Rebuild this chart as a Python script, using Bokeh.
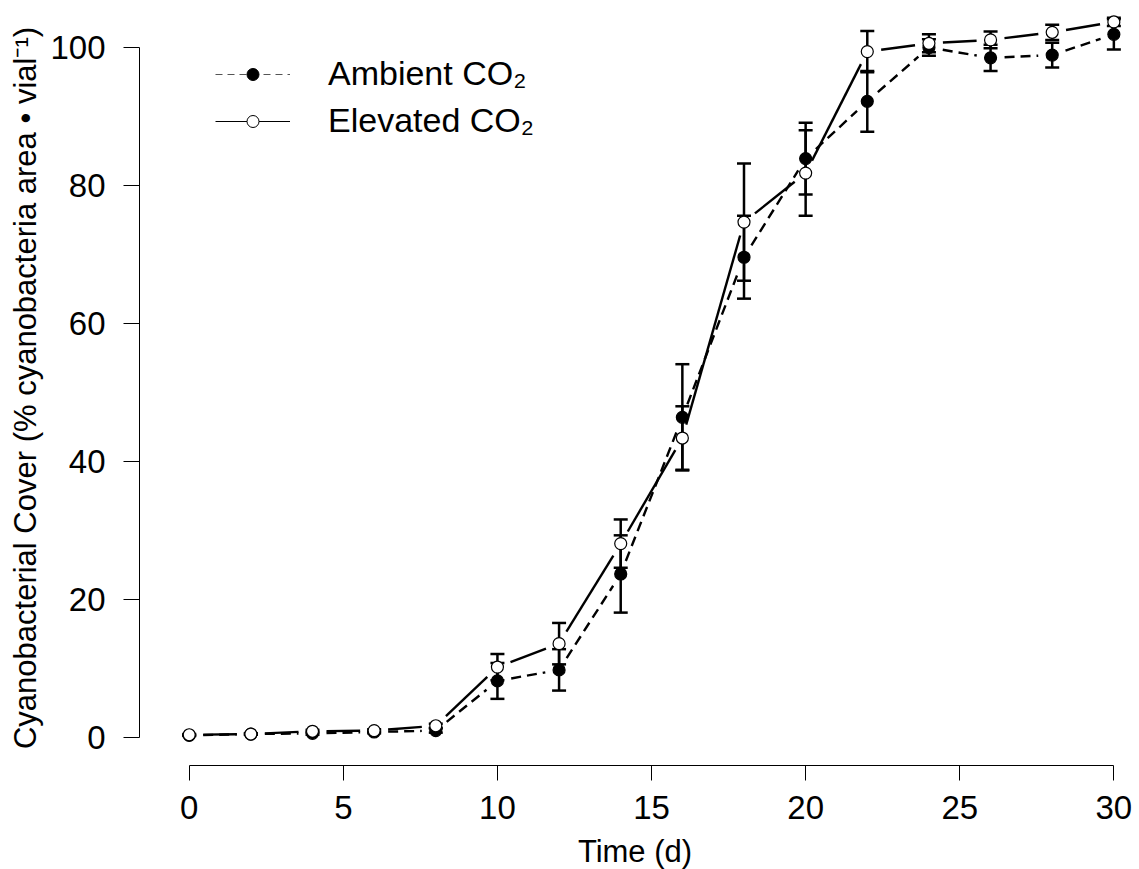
import math
import numpy as np
from bokeh.plotting import figure
from bokeh.models import (Range1d, FixedTicker, Whisker, TeeHead, ColumnDataSource,
                          Legend, LegendItem)
from bokeh.embed import file_html
from bokeh.resources import INLINE

# ---------------- data ----------------
days = [0, 2, 4, 6, 8, 10, 12, 14, 16, 18, 20, 22, 24, 26, 28, 30]
ambient = [0.3, 0.5, 0.6, 0.8, 1.0, 8.2, 9.8, 23.7, 46.4, 69.6, 83.9, 92.2, 100.0, 98.5, 98.9, 101.9]
ambient_se = [0.1, 0.1, 0.2, 0.2, 0.3, 2.6, 3.0, 5.6, 7.7, 6.0, 5.2, 4.4, 1.2, 1.9, 1.8, 2.2]
elevated = [0.4, 0.5, 0.9, 1.0, 1.7, 10.2, 13.6, 28.1, 43.4, 74.7, 81.8, 99.4, 100.6, 101.1, 102.2, 103.7]
elevated_se = [0.1, 0.1, 0.2, 0.2, 0.3, 1.9, 3.0, 3.5, 4.6, 8.5, 6.2, 3.0, 1.3, 1.2, 1.1, 0.6]
x_ticks = [0, 5, 10, 15, 20, 25, 30]
y_ticks = [0, 20, 40, 60, 80, 100]
series_labels = ["Ambient CO\u2082", "Elevated CO\u2082"]
x_title = "Time (d)"
y_title = "Cyanobacterial Cover (% cyanobacteria area \u2022 vial\u207b\u00b9)"

FONT = "Liberation Sans"
FW, FH = 991, 755
X0, X1 = -1.613, 30.54
Y0, Y1 = -4.058, 105.36

p = figure(frame_width=FW, frame_height=FH,
           x_range=Range1d(X0, X1), y_range=Range1d(Y0, Y1),
           output_backend="svg", toolbar_location=None,
           min_border_left=139, min_border_right=9,
           min_border_top=10, min_border_bottom=104)
p.grid.visible = False
p.outline_line_color = None
p.background_fill_color = "white"
p.border_fill_color = "white"

for ax, ticks in ((p.xaxis[0], x_ticks), (p.yaxis[0], y_ticks)):
    ax.ticker = FixedTicker(ticks=ticks)
    ax.bounds = (ticks[0], ticks[-1])
    ax.minor_tick_line_color = None
    ax.major_tick_in = 0
    ax.axis_line_color = "black"
    ax.major_tick_line_color = "black"
    ax.axis_line_width = 1
    ax.major_label_text_font = FONT
    ax.major_label_text_font_size = "33px"
    ax.major_label_text_color = "black"
    ax.axis_label_text_font = FONT
    ax.axis_label_text_font_size = "31px"
    ax.axis_label_text_font_style = "normal"
    ax.axis_label_text_color = "black"

p.xaxis.major_tick_out = 15
p.xaxis.major_label_standoff = 15
p.xaxis.axis_label = x_title
p.xaxis.axis_label_standoff = 12
p.yaxis.major_tick_out = 16
p.yaxis.major_label_standoff = 18
p.yaxis.axis_label = y_title
p.yaxis.axis_label_standoff = 4

# pixel scale for the R "type = b" gaps around points
sx = FW / (X1 - X0)
sy = FH / (Y1 - Y0)
GAP = 14


def trimmed(xs, ys, gap=GAP):
    xa, ya, xb, yb = [], [], [], []
    for i in range(len(xs) - 1):
        dx, dy = xs[i + 1] - xs[i], ys[i + 1] - ys[i]
        L = math.hypot(dx * sx, dy * sy)
        if L <= 2 * gap:
            continue
        f = gap / L
        xa.append(xs[i] + f * dx)
        ya.append(ys[i] + f * dy)
        xb.append(xs[i + 1] - f * dx)
        yb.append(ys[i + 1] - f * dy)
    return dict(x0=xa, y0=ya, x1=xb, y1=yb)


sa = ColumnDataSource(trimmed(days, ambient))
se = ColumnDataSource(trimmed(days, elevated))
p.segment("x0", "y0", "x1", "y1", source=sa, line_color="black", line_width=2.4,
          line_dash="10 6", level="underlay")
p.segment("x0", "y0", "x1", "y1", source=se, line_color="black", line_width=2.4,
          level="underlay")

for vals, ses in ((ambient, ambient_se), (elevated, elevated_se)):
    src = ColumnDataSource(dict(x=days,
                                upper=[v + s for v, s in zip(vals, ses)],
                                lower=[v - s for v, s in zip(vals, ses)]))
    w = Whisker(base="x", upper="upper", lower="lower", source=src, dimension="height",
                line_color="black", line_width=2.5, level="underlay",
                upper_head=TeeHead(size=14, line_width=2.5, line_color="black"),
                lower_head=TeeHead(size=14, line_width=2.5, line_color="black"))
    p.add_layout(w)

p.scatter(days, ambient, marker="circle", size=12, fill_color="black", line_color="black",
          line_width=1.2)
p.scatter(days, elevated, marker="circle", size=12, fill_color="white", line_color="black",
          line_width=1.2)

# legend renderers (no data drawn, only used by the legend)
la_line = p.line([np.nan], [np.nan], line_color="#555555", line_width=1, line_dash="7 5")
la_pt = p.scatter([np.nan], [np.nan], marker="circle", fill_color="black", line_color="black")
le_line = p.line([np.nan], [np.nan], line_color="black", line_width=1)
le_pt = p.scatter([np.nan], [np.nan], marker="circle", fill_color="white", line_color="black",
                  line_width=1)

legend = Legend(items=[LegendItem(label=series_labels[0], renderers=[la_line, la_pt]),
                       LegendItem(label=series_labels[1], renderers=[le_line, le_pt])],
                location=(76, 625), glyph_width=75, glyph_height=30, label_height=30,
                spacing=8, padding=0, margin=0, label_standoff=38,
                label_text_font=FONT, label_text_font_size="34px",
                label_text_color="black",
                border_line_alpha=0, background_fill_alpha=0)
p.add_layout(legend)

open("out.html", "w").write(file_html(p, INLINE))
